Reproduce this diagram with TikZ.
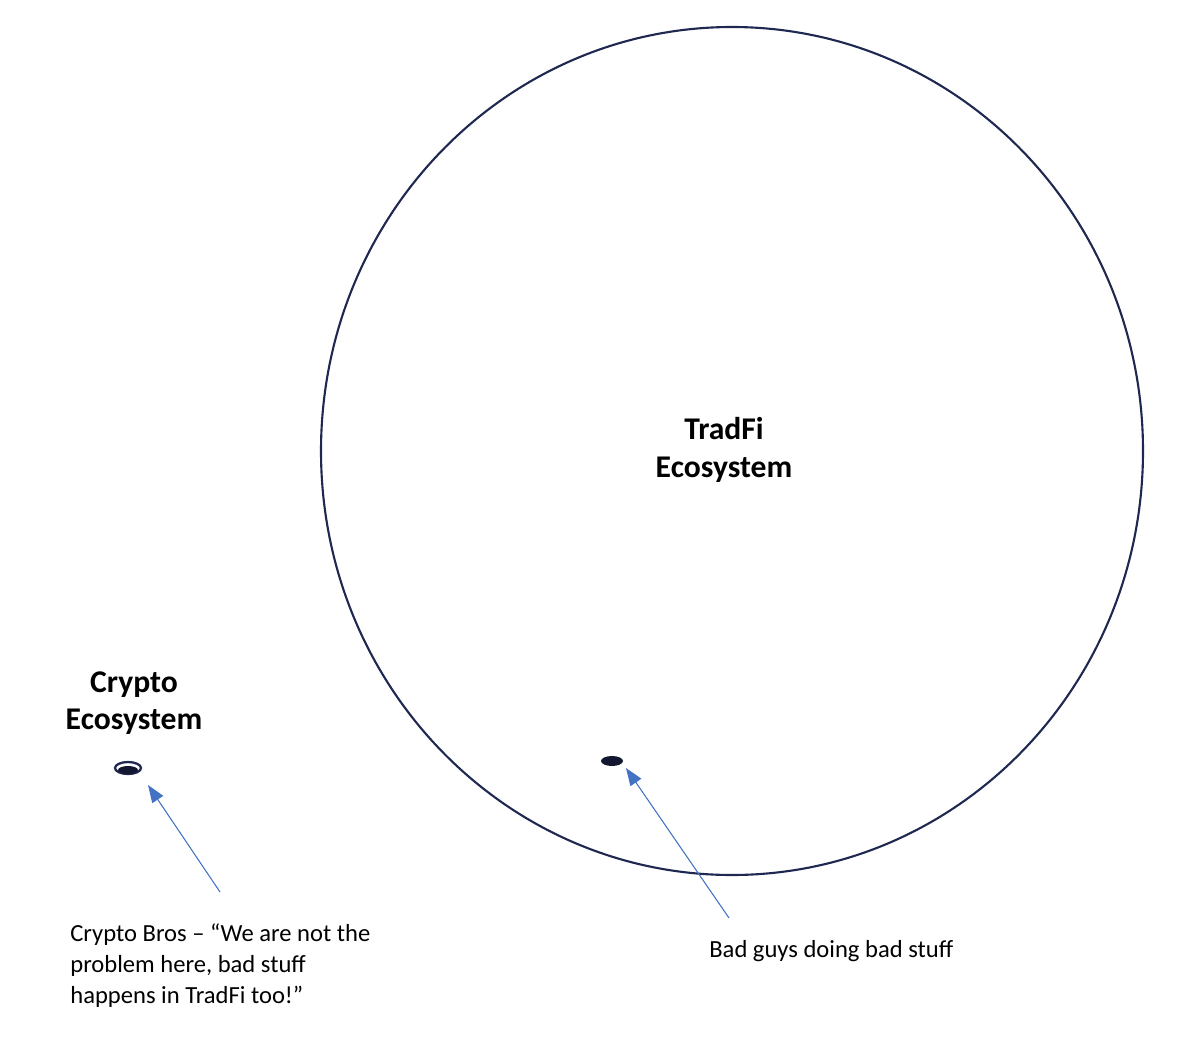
\documentclass[tikz,border=0pt]{standalone}
\usepackage{fontspec}
\setmainfont{Carlito}
\usetikzlibrary{arrows.meta}
\definecolor{ringblue}{RGB}{31,40,80}
\definecolor{arrowblue}{RGB}{68,114,196}
\tikzset{>={Triangle[length=3.5mm,width=2.6mm]}}

\begin{document}
\begin{tikzpicture}[
		x=0.02cm, y=-0.02cm,
		title/.style = {
			font=\fontsize{18}{21.5}\selectfont\bfseries,
			align=center
		},
		note/.style = {
			font=\fontsize{14}{17.6}\selectfont,
			align=left, anchor=west, inner sep=0pt
		},
		pointer/.style = {
			->, draw=arrowblue, fill=arrowblue, line width=0.6pt
		}
	]
		\useasboundingbox (0,0) rectangle (1200,1045);
		% ecosystems
		\draw[ringblue, line width=1.2pt] (732,451) ellipse [x radius=411, y radius=424];
		\node[title] (tradfi) at (724,450) {TradFi\\Ecosystem};
		\node[title] (crypto) at (134,703) {Crypto\\Ecosystem};
		\draw[ringblue, line width=1.3pt] (128,768) ellipse [x radius=13, y radius=6];
		\fill[ringblue!60!black] (128,770) ellipse [x radius=10, y radius=4];
		\fill[ringblue!60!black] (612,761) ellipse [x radius=11, y radius=5];
		% labels
		\node[note] (bros) at (70,966)
			{Crypto Bros – “We are not the\\problem here, bad stuff\\happens in TradFi too!”};
		\node[note] (bad) at (709,951) {Bad guys doing bad stuff};
		\coordinate (brostail) at (220,892);
		\coordinate (badtail) at (729,918);
		\draw[pointer] (brostail) -- (148,785);
		\draw[pointer] (badtail) -- (626,768);
	\end{tikzpicture}
\end{document}
